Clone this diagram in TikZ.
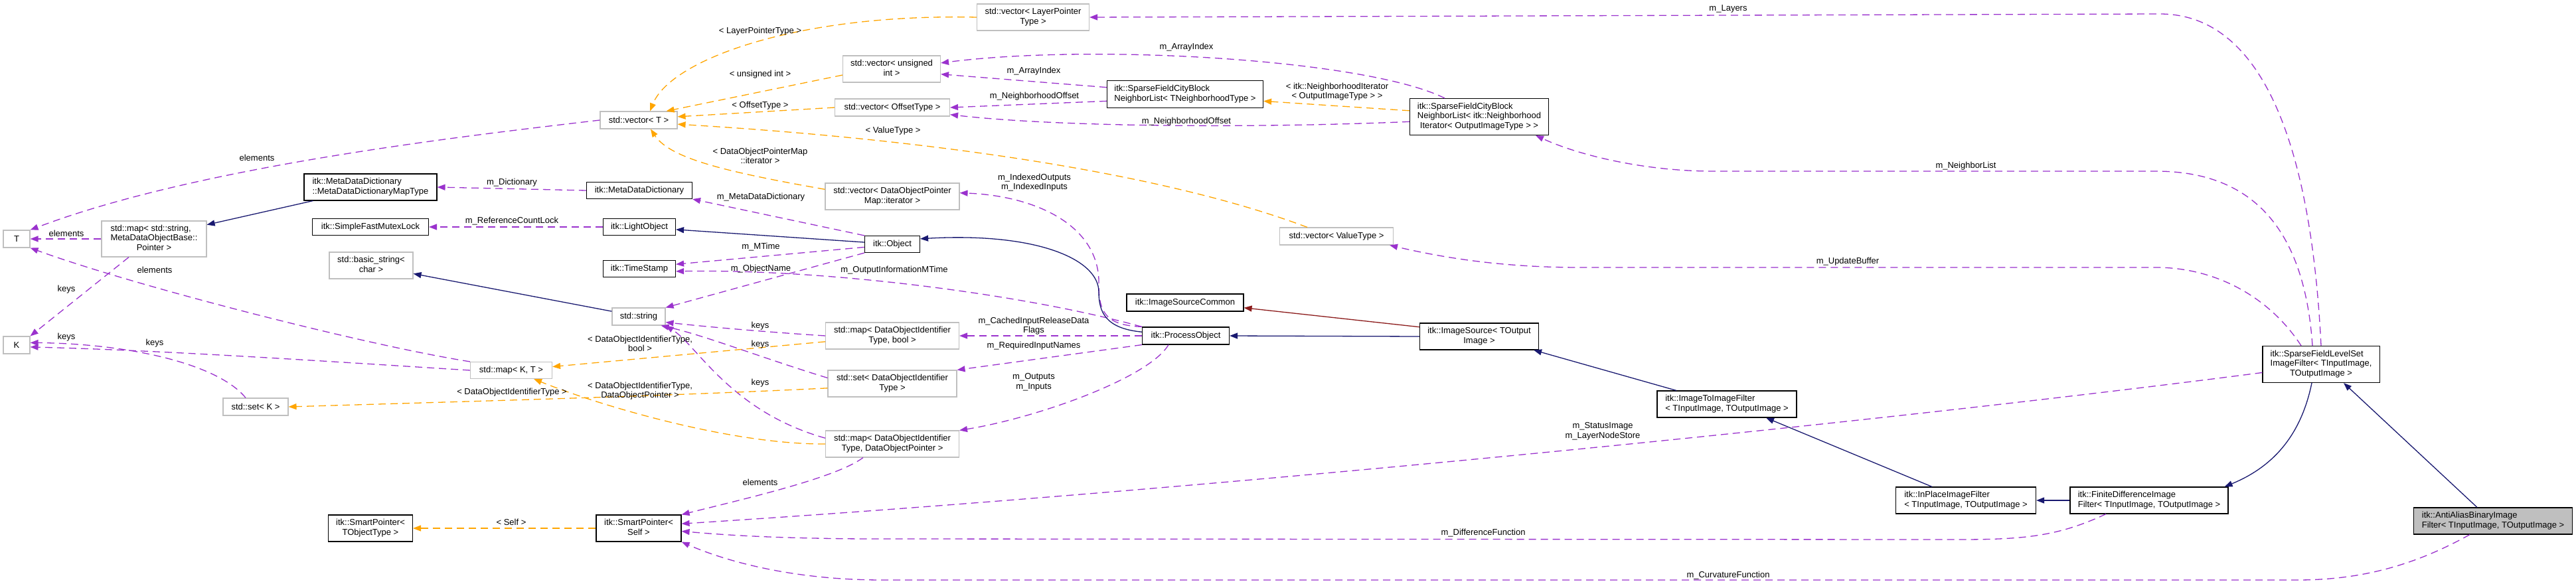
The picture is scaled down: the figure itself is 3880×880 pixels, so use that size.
\documentclass[tikz,border=0pt]{standalone}
\usepackage{fontspec}
\setmainfont{Liberation Sans}
\usetikzlibrary{arrows.meta}
\definecolor{usecol}{HTML}{9A32CD}
\definecolor{instcol}{HTML}{FFA500}
\definecolor{pubcol}{HTML}{191970}
\definecolor{privcol}{HTML}{8B1A1A}
\definecolor{tplgray}{HTML}{BFBFBF}
\newcommand{\dxfont}{\fontsize{13}{14.5}\selectfont}
\newcommand{\cl}[2]{\begin{tabular}{@{}l@{}}#1\\\multicolumn{1}{@{}c@{}}{#2}\end{tabular}}
\tikzset{
  cls/.style={draw=black, line width=1.1pt, font=\dxfont, inner sep=0pt, minimum height=25},
  tpl/.style={cls, draw=tplgray},
  focus/.style={cls, fill=tplgray},
  conn/.style={line width=1.3pt, -{Triangle[length=12pt,width=9pt]}},
  use/.style={conn, draw=usecol, dash pattern=on 11pt off 7pt},
  inst/.style={conn, draw=instcol, dash pattern=on 11pt off 7pt},
  pub/.style={conn, draw=pubcol},
  priv/.style={conn, draw=privcol},
  lbl/.style={font=\dxfont, align=center, inner sep=0pt},
}
\begin{document}
\begin{tikzpicture}[x=1pt, y=-1pt]
  \useasboundingbox (0,0) rectangle (3880,880);
  \node[tpl, minimum width=40, minimum height=26] (T) at (25,360) {T};
  \node[tpl, minimum width=40, minimum height=26] (K) at (25,520) {K};
  \node[tpl, minimum width=158, minimum height=54] (mapstr) at (232,360) {\cl{std::map< std::string,\\MetaDataObjectBase::}{Pointer >}};
  \node[tpl, minimum width=98, minimum height=26] (setK) at (385,613) {std::set< K >};
  \node[cls, minimum width=200, minimum height=40] (dictmap) at (558,282) {\cl{itk::MetaDataDictionary}{::MetaDataDictionaryMapType}};
  \node[cls, minimum width=175] (mutex) at (558,342) {itk::SimpleFastMutexLock};
  \node[tpl, minimum width=126, minimum height=40] (bstr) at (559,400) {\cl{std::basic\_string<}{char >}};
  \node[cls, minimum width=127, minimum height=40] (spobj) at (558,796) {\cl{itk::SmartPointer<}{TObjectType >}};
  \node[tpl, minimum width=123] (mapKT) at (770,558) {std::map< K, T >};
  \node[tpl, minimum width=116, minimum height=26] (vecT) at (962,181) {std::vector< T >};
  \node[cls, minimum width=159] (dict) at (963,287) {itk::MetaDataDictionary};
  \node[cls, minimum width=109] (light) at (963,342) {itk::LightObject};
  \node[cls, minimum width=109] (stamp) at (963,405) {itk::TimeStamp};
  \node[tpl, minimum width=80, minimum height=26] (str) at (962,477) {std::string};
  \node[cls, minimum width=128, minimum height=40] (spself) at (962,796) {\cl{itk::SmartPointer<}{Self >}};
  \node[cls, minimum width=83] (obj) at (1344,368) {itk::Object};
  \node[tpl, minimum width=169, minimum height=40] (vecLP) at (1556,26) {\cl{std::vector< LayerPointer}{Type >}};
  \node[tpl, minimum width=147, minimum height=40] (vecUI) at (1343,104) {\cl{std::vector< unsigned}{int >}};
  \node[tpl, minimum width=173, minimum height=26] (vecOff) at (1344,162) {std::vector< OffsetType >};
  \node[tpl, minimum width=202, minimum height=40] (vecIt) at (1344,296) {\cl{std::vector< DataObjectPointer}{Map::iterator >}};
  \node[tpl, minimum width=201, minimum height=40] (mapBool) at (1344,506) {\cl{std::map< DataObjectIdentifier}{Type, bool >}};
  \node[tpl, minimum width=194, minimum height=40] (setDOI) at (1344,578) {\cl{std::set< DataObjectIdentifier}{Type >}};
  \node[tpl, minimum width=201, minimum height=40] (mapDOP) at (1344,669) {\cl{std::map< DataObjectIdentifier}{Type, DataObjectPointer >}};
  \node[cls, minimum width=235, minimum height=41] (cityA) at (1785,142) {\cl{itk::SparseFieldCityBlock}{NeighborList< TNeighborhoodType >}};
  \node[cls, minimum width=176, minimum height=26] (common) at (1785,456) {itk::ImageSourceCommon};
  \node[cls, minimum width=131, minimum height=26] (proc) at (1786,506) {itk::ProcessObject};
  \node[tpl, minimum width=171, minimum height=26] (vecVal) at (2013,356) {std::vector< ValueType >};
  \node[cls, minimum width=209, minimum height=55] (cityB) at (2228,176) {\cl{itk::SparseFieldCityBlock\\NeighborList< itk::Neighborhood}{Iterator< OutputImageType > >}};
  \node[cls, minimum width=179, minimum height=40] (isrc) at (2228,507) {\cl{itk::ImageSource< TOutput}{Image >}};
  \node[cls, minimum width=210, minimum height=40] (i2i) at (2601,609) {\cl{itk::ImageToImageFilter}{< TInputImage, TOutputImage >}};
  \node[cls, minimum width=211, minimum height=40] (inplace) at (2961,754) {\cl{itk::InPlaceImageFilter}{< TInputImage, TOutputImage >}};
  \node[cls, minimum width=238, minimum height=40] (fdiff) at (3237,754) {\cl{itk::FiniteDifferenceImage}{Filter< TInputImage, TOutputImage >}};
  \node[cls, minimum width=176, minimum height=55] (sfls) at (3496,549) {\cl{itk::SparseFieldLevelSet\\ImageFilter< TInputImage,}{TOutputImage >}};
  \node[focus, minimum width=239, minimum height=40] (anti) at (3755,785) {\cl{itk::AntiAliasBinaryImage}{Filter< TInputImage, TOutputImage >}};

  \draw[use] (vecT.west) .. controls (700,205) and (300,250) .. (T.north east);
  \draw[use] (mapstr.west) -- (T.east);
  \draw[use] (mapKT.north west) .. controls (550,520) and (200,430) .. (T.south east);
  \draw[use] ([xshift=-38]mapstr.south) -- (K.north east);
  \draw[use] (mapKT.west) .. controls (500,545) and (250,528) .. (K.-8);
  \draw[use] ([xshift=-15]setK.north) .. controls (330,550) and (200,518) .. (K.10);
  \draw[use] (dict.west) -- (dictmap.east);
  \draw[use] (light.west) -- (mutex.east);
  \draw[use] (obj.north west) -- (dict.south east);
  \draw[use] (obj.186) -- (stamp.7);
  \draw[use] (proc.north west) .. controls (1550,445) and (1250,405) .. (stamp.-4);
  \draw[use] (obj.south west) -- (str.north east);
  \draw[use] (mapBool.west) .. controls (1150,500) and (1060,492) .. (str.-12);
  \draw[use] (setDOI.175) .. controls (1150,540) and (1060,505) .. (str.-22);
  \draw[use] (mapDOP.175) .. controls (1100,620) and (1050,520) .. (str.south east);
  \draw[use] (proc.west) -- (mapBool.east);
  \draw[use] (proc.south west) -- (setDOI.north east);
  \draw[use] ([xshift=-26]proc.south) .. controls (1730,570) and (1560,630) .. (mapDOP.north east);
  \draw[use] (proc.north west) .. controls (1670,490) and (1655,475) .. (1655,430) .. controls (1658,340) and (1560,295) .. (vecIt.3);
  \draw[use] ([xshift=-44]mapDOP.south) .. controls (1260,720) and (1120,752) .. (spself.north east);
  \draw[use] (sfls.188) .. controls (2800,640) and (1800,740) .. (spself.6);
  \draw[use] ([xshift=-65]fdiff.south) .. controls (3100,808) and (3050,813) .. (2950,813) -- (1300,812) .. controls (1150,811) and (1080,805) .. (spself.-4);
  \draw[use] ([xshift=-35]anti.south) .. controls (3640,850) and (3560,874) .. (3460,874) -- (1330,874) .. controls (1180,874) and (1080,840) .. (spself.south east);
  \draw[use] (sfls.north) .. controls (3480,200) and (3400,21) .. (3253,21) -- (vecLP.east);
  \draw[use] ([xshift=-13]sfls.north) .. controls (3470,330) and (3380,258) .. (3247,258) -- (2580,258) .. controls (2480,258) and (2380,235) .. ([xshift=-20]cityB.south east);
  \draw[use] ([xshift=-30]sfls.north) .. controls (3420,450) and (3340,403) .. (3247,403) -- (2380,403) .. controls (2250,403) and (2160,385) .. ([xshift=-6]vecVal.south east);
  \draw[use] (cityA.175) -- (vecUI.-6);
  \draw[use] ([xshift=-52]cityB.north) .. controls (2060,90) and (1650,65) .. (vecUI.7);
  \draw[use] (cityA.185) -- (vecOff.east);
  \draw[use] (cityB.184) .. controls (1900,193) and (1600,192) .. (vecOff.-7);

  \draw[pub] ([xshift=14]dictmap.south west) -- (mapstr.15);
  \draw[pub] (str.169) -- (bstr.-11);
  \draw[pub] (obj.176) -- (light.-4);
  \draw[pub] (proc.175) .. controls (1665,495) and (1655,470) .. (1655,440) .. controls (1655,390) and (1560,350) .. (obj.11);
  \draw[pub] (isrc.west) -- (proc.east);
  \draw[pub] ([xshift=-76]i2i.north) -- ([xshift=-8]isrc.south east);
  \draw[pub] ([xshift=-51]inplace.north) -- ([xshift=59]i2i.south);
  \draw[pub] (fdiff.west) -- (inplace.east);
  \draw[pub] ([xshift=-14]sfls.south) .. controls (3465,660) and (3420,705) .. ([xshift=-6]fdiff.north east);
  \draw[pub] ([xshift=-24]anti.north) -- ([xshift=34]sfls.south);
  \draw[priv] (isrc.171) -- (common.-5);

  \draw[inst] (vecLP.west) .. controls (1200,20) and (1010,90) .. ([xshift=17]vecT.north);
  \draw[inst] (vecUI.187) -- ([xshift=-17]vecT.north east);
  \draw[inst] (vecOff.west) -- (vecT.5);
  \draw[inst] ([xshift=-44]vecVal.north) .. controls (1750,260) and (1400,210) .. (vecT.-6);
  \draw[inst] (vecIt.174) .. controls (1100,260) and (1010,240) .. ([xshift=18]vecT.south);
  \draw[inst] (cityB.175) -- (cityA.-5);
  \draw[inst] (mapBool.185) -- (mapKT.5);
  \draw[inst] (mapDOP.west) .. controls (1100,670) and (900,610) .. ([xshift=34]mapKT.south);
  \draw[inst] (setDOI.184) .. controls (1000,597) and (700,605) .. (setK.east);
  \draw[inst] (spself.west) -- (spobj.east);

  \node[lbl] (l-el1) at (387,238) {elements};
  \node[lbl] (l-el2) at (100,352) {elements};
  \node[lbl] (l-el3) at (233,407) {elements};
  \node[lbl] (l-key1) at (100,436) {keys};
  \node[lbl] (l-key2) at (100,508) {keys};
  \node[lbl] (l-key3) at (233,517) {keys};
  \node[lbl] (l-dict) at (771,275) {m\_Dictionary};
  \node[lbl] (l-lock) at (771,333) {m\_ReferenceCountLock};
  \node[lbl] (l-mdd) at (1146,297) {m\_MetaDataDictionary};
  \node[lbl] (l-mtime) at (1146,372) {m\_MTime};
  \node[lbl] (l-oname) at (1146,405) {m\_ObjectName};
  \node[lbl] (l-oimt) at (1347,407) {m\_OutputInformationMTime};
  \node[lbl] (l-pmap) at (1145,235) {< DataObjectPointerMap\\::iterator >};
  \node[lbl] (l-val) at (1345,197) {< ValueType >};
  \node[lbl] (l-lp) at (1145,47) {< LayerPointerType >};
  \node[lbl] (l-ui) at (1145,112) {< unsigned int >};
  \node[lbl] (l-off) at (1145,159) {< OffsetType >};
  \node[lbl] (l-key4) at (1145,491) {keys};
  \node[lbl] (l-dbool) at (964,518) {< DataObjectIdentifierType,\\bool >};
  \node[lbl] (l-key5) at (1145,519) {keys};
  \node[lbl] (l-dset) at (771,591) {< DataObjectIdentifierType >};
  \node[lbl] (l-dptr) at (964,589) {< DataObjectIdentifierType,\\DataObjectPointer >};
  \node[lbl] (l-key6) at (1145,577) {keys};
  \node[lbl] (l-cache) at (1557,491) {m\_CachedInputReleaseData\\Flags};
  \node[lbl] (l-req) at (1557,521) {m\_RequiredInputNames};
  \node[lbl] (l-io) at (1557,576) {m\_Outputs\\m\_Inputs};
  \node[lbl] (l-idx) at (1558,275) {m\_IndexedOutputs\\m\_IndexedInputs};
  \node[lbl] (l-arr1) at (1787,71) {m\_ArrayIndex};
  \node[lbl] (l-arr2) at (1557,107) {m\_ArrayIndex};
  \node[lbl] (l-nb1) at (1558,145) {m\_NeighborhoodOffset};
  \node[lbl] (l-nb2) at (1787,183) {m\_NeighborhoodOffset};
  \node[lbl] (l-nit) at (2014,138) {< itk::NeighborhoodIterator\\< OutputImageType > >};
  \node[lbl] (l-el4) at (1145,727) {elements};
  \node[lbl] (l-self) at (770,787) {< Self >};
  \node[lbl] (l-stat) at (2414,650) {m\_StatusImage\\m\_LayerNodeStore};
  \node[lbl] (l-diff) at (2234,803) {m\_DifferenceFunction};
  \node[lbl] (l-curv) at (2603,867) {m\_CurvatureFunction};
  \node[lbl] (l-lay) at (2603,13) {m\_Layers};
  \node[lbl] (l-nbl) at (2961,250) {m\_NeighborList};
  \node[lbl] (l-upd) at (2783,394) {m\_UpdateBuffer};
\end{tikzpicture}
\end{document}
